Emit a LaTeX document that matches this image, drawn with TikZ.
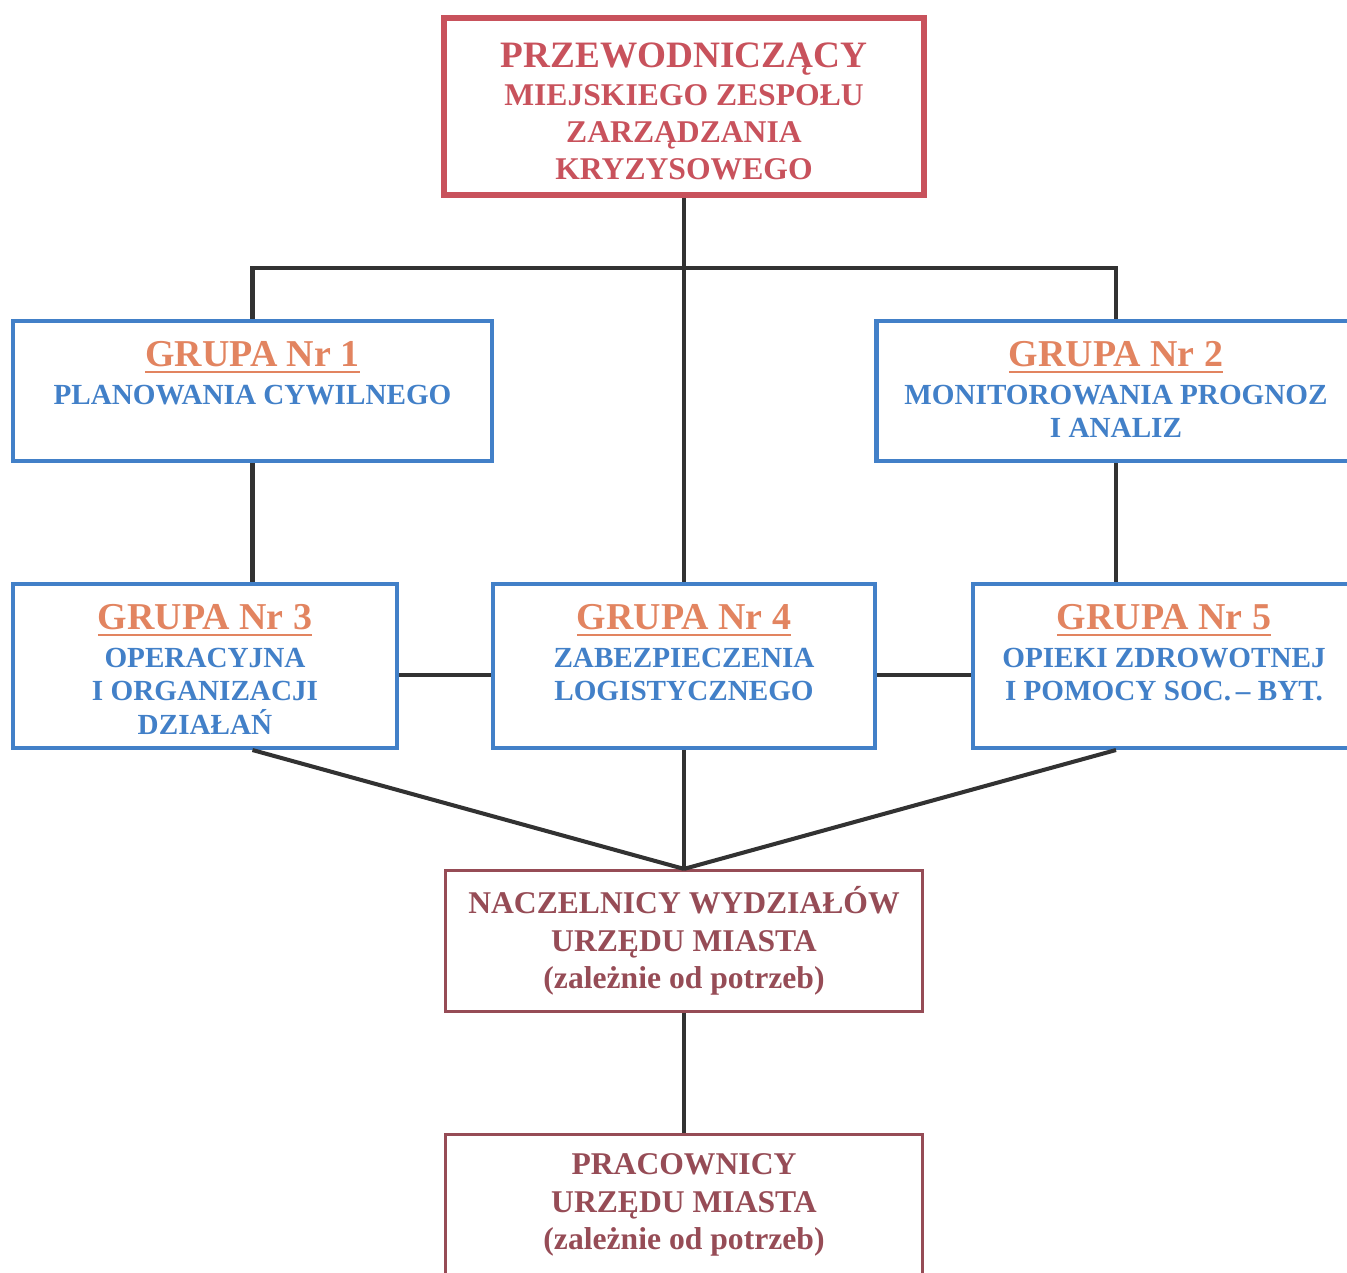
\documentclass[tikz,border=0pt]{standalone}
\usepackage{fontspec}
\setmainfont{Liberation Serif}
\usetikzlibrary{positioning}

\definecolor{chairred}{RGB}{200,82,92}
\definecolor{groupblue}{RGB}{66,128,200}
\definecolor{grouporange}{RGB}{226,132,96}
\definecolor{officemaroon}{RGB}{150,76,86}
\definecolor{linkgray}{RGB}{50,50,50}

\tikzset{
  chairbox/.style={draw=chairred,line width=1.7pt,minimum width=4.8cm,minimum height=1.77cm,
    text=chairred,align=center,font=\bfseries\fontsize{9}{10.6}\selectfont},
  groupbox/.style={draw=groupblue,line width=1.15pt,minimum height=1.4cm},
  grouptext/.style={inner sep=0pt,text=groupblue,align=center,font=\bfseries\fontsize{8.3}{9.6}\selectfont},
  officebox/.style={draw=officemaroon,line width=0.9pt,minimum width=4.77cm,minimum height=1.41cm,
    text=officemaroon,align=center,font=\bfseries\fontsize{9}{10.6}\selectfont},
  link/.style={draw=linkgray,line width=1.15pt},
}
\newcommand{\grouptitle}[1]{{\color{grouporange}\fontsize{10.8}{10}\selectfont\underline{#1}}}

\begin{document}
\begin{tikzpicture}

\useasboundingbox (0,0) rectangle (13.47,-12.73);
\clip (0,0) rectangle (13.47,-12.73);

% chairman
\node[chairbox] (chair) at (6.84,-1.065) {\rule{0pt}{0.35cm}{\fontsize{10.6}{10.6}\selectfont PRZEWODNICZĄCY}\\MIEJSKIEGO ZESPOŁU\\ZARZĄDZANIA\\KRYZYSOWEGO};

% groups
\node[groupbox,minimum width=4.79cm] (g1) at (2.525,-3.91) {};
\node[groupbox,minimum width=4.79cm] (g2) at (11.16,-3.91) {};
\node[groupbox,minimum height=1.64cm,minimum width=3.84cm] (g3) at (2.05,-6.66) {};
\node[groupbox,minimum height=1.64cm,minimum width=3.82cm] (g4) at (6.84,-6.66) {};
\node[groupbox,minimum height=1.64cm,minimum width=3.82cm] (g5) at (11.64,-6.66) {};

\node[grouptext,below=0.22cm of g1.north] (g1t) {\grouptitle{GRUPA Nr 1}\\[1pt]PLANOWANIA CYWILNEGO};
\node[grouptext,below=0.22cm of g2.north] (g2t) {\grouptitle{GRUPA Nr 2}\\[1pt]MONITOROWANIA PROGNOZ\\I ANALIZ};
\node[grouptext,below=0.22cm of g3.north] (g3t) {\grouptitle{GRUPA Nr 3}\\[1pt]OPERACYJNA\\I ORGANIZACJI\\DZIAŁAŃ};
\node[grouptext,below=0.22cm of g4.north] (g4t) {\grouptitle{GRUPA Nr 4}\\[1pt]ZABEZPIECZENIA\\LOGISTYCZNEGO};
\node[grouptext,below=0.22cm of g5.north] (g5t) {\grouptitle{GRUPA Nr 5}\\[1pt]OPIEKI ZDROWOTNEJ\\I POMOCY SOC.\,\char"2013\ BYT.};

% city office
\node[officebox] (heads) at (6.84,-9.41) {NACZELNICY WYDZIAŁÓW\\URZĘDU MIASTA\\(zależnie od potrzeb)};
\node[officebox] (staff) at (6.84,-12.05) {PRACOWNICY\\URZĘDU MIASTA\\(zależnie od potrzeb)};

% links
\coordinate (bar) at (0,-2.68);
\coordinate (mid) at (0,-6.75);
\draw[link] (chair.south) -- (g4.north);
\draw[link] (g1.north) |- (g2.north |- bar) -- (g2.north);
\draw[link] (g1.south) -- (g1.south |- g3.north);
\draw[link] (g2.south) -- (g2.south |- g5.north);
\draw[link] (g3.east |- mid) -- (g4.west |- mid);
\draw[link] (g4.east |- mid) -- (g5.west |- mid);
\draw[link] (g3.south -| g1.south) -- (heads.north);
\draw[link] (g5.south -| g2.south) -- (heads.north);
\draw[link] (g4.south) -- (heads.north);
\draw[link] (heads.south) -- (staff.north);

\end{tikzpicture}
\end{document}
